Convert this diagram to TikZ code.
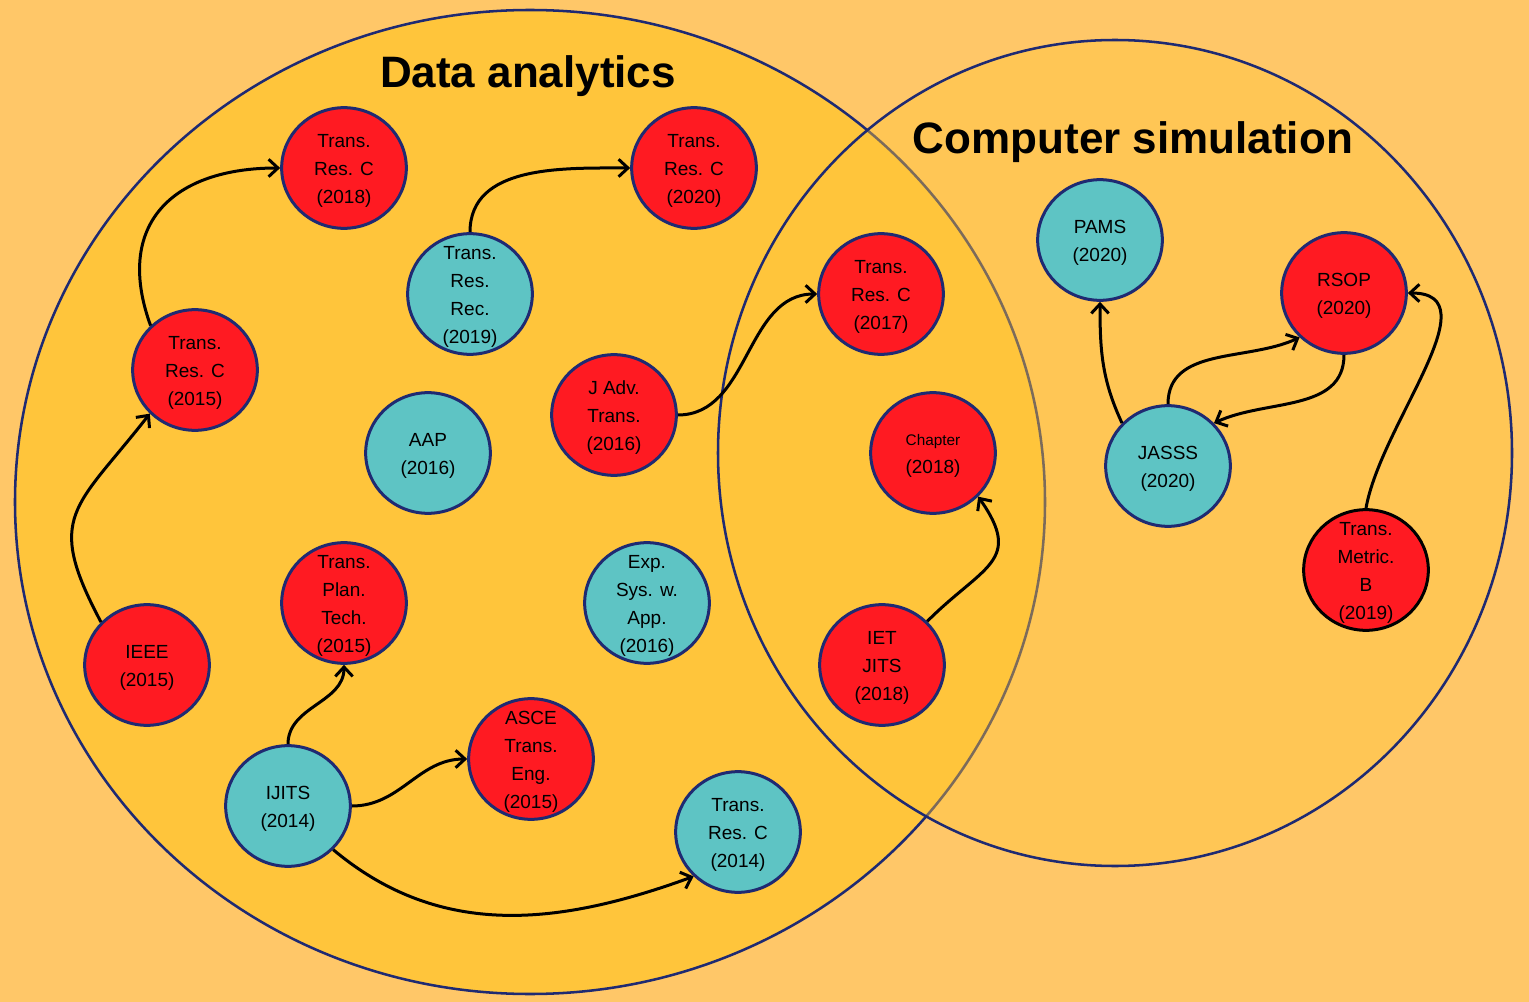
\documentclass[tikz,border=0pt]{standalone}
\usepackage{fontspec}
\setmainfont{Liberation Sans}
\usetikzlibrary{shapes.geometric, arrows.meta}
\definecolor{bgc}{HTML}{FFC768}
\definecolor{leftc}{HTML}{FFC53B}
\definecolor{navy}{HTML}{1F2A72}
\definecolor{pubred}{HTML}{FF1A22}
\definecolor{pubteal}{HTML}{5EC4C4}
\begin{document}
\begin{tikzpicture}[x=0.75pt, y=0.75pt,
  pub/.style={ellipse, draw=navy, line width=2.25pt, minimum width=93.5pt, minimum height=90.5pt, inner sep=0pt},
  redpub/.style={pub, fill=pubred},
  tealpub/.style={pub, fill=pubteal},
  lbl/.style={align=center, font=\fontsize{14.25}{21}\selectfont, inner sep=0pt, yshift=-2pt},
  arr/.style={line width=2.25pt, -{Straight Barb[length=7pt,width=13pt]}},
  ttl/.style={font=\fontsize{33}{40}\selectfont\bfseries, anchor=base, inner sep=0pt},
  bigset/.style={draw=navy, line width=1.9pt}
]
\useasboundingbox (0,0) rectangle (1529,-1002);
\fill[bgc] (0,0) rectangle (1529,-1002);
% sets
\path[bigset, fill=leftc] (530,-502) ellipse [x radius=515, y radius=492];
\path[bigset, fill=leftc, fill opacity=0.42] (1115,-453) ellipse [x radius=397, y radius=413];
% titles
\node[ttl] (t1) at (528,-88) {Data analytics};
\node[ttl] (t2) at (1133,-154) {Computer simulation};
% nodes
\node[redpub, label={[lbl]center:{Trans.\\Res. C\\(2018)}}] (rc18) at (344,-168) {};
\node[redpub, label={[lbl]center:{Trans.\\Res. C\\(2020)}}] (rc20) at (694,-168) {};
\node[tealpub, label={[lbl]center:{Trans.\\Res.\\Rec.\\(2019)}}] (rec19) at (470,-294) {};
\node[redpub, label={[lbl]center:{Trans.\\Res. C\\(2015)}}] (rc15) at (195,-370) {};
\node[tealpub, label={[lbl]center:{AAP\\(2016)}}] (aap) at (428,-453) {};
\node[redpub, label={[lbl]center:{J Adv.\\Trans.\\(2016)}}] (jadv) at (614,-415) {};
\node[redpub, label={[lbl]center:{Trans.\\Res. C\\(2017)}}] (rc17) at (881,-294) {};
\node[redpub, label={[lbl]center:{{\fontsize{11.5}{20}\selectfont Chapter}\\(2018)}}] (chap) at (933,-453) {};
\node[redpub, label={[lbl]center:{IET\\JITS\\(2018)}}] (iet) at (882,-665) {};
\node[tealpub, label={[lbl]center:{PAMS\\(2020)}}] (pams) at (1100,-240) {};
\node[redpub, label={[lbl]center:{RSOP\\(2020)}}] (rsop) at (1344,-293) {};
\node[tealpub, label={[lbl]center:{JASSS\\(2020)}}] (jasss) at (1168,-466) {};
\node[redpub, draw=black, label={[lbl]center:{Trans.\\Metric.\\B\\(2019)}}] (metric) at (1366,-570) {};
\node[redpub, label={[lbl]center:{IEEE\\(2015)}}] (ieee) at (147,-665) {};
\node[redpub, label={[lbl]center:{Trans.\\Plan.\\Tech.\\(2015)}}] (plan15) at (344,-603) {};
\node[redpub, label={[lbl]center:{ASCE\\Trans.\\Eng.\\(2015)}}] (asce) at (531,-759) {};
\node[tealpub, label={[lbl]center:{Exp.\\Sys. w.\\App.\\(2016)}}] (exp) at (647,-603) {};
\node[tealpub, label={[lbl]center:{IJITS\\(2014)}}] (ijits) at (288,-806) {};
\node[tealpub, label={[lbl]center:{Trans.\\Res. C\\(2014)}}] (rc14) at (738,-832) {};
% connectors
\draw[arr] (ieee.137) to[out=118, in=232, looseness=1.45] (rc15.224);
\draw[arr] (rc15.135) to[out=110, in=180, looseness=1.35] (rc18.west);
\draw[arr] (rec19.north) to[out=90, in=180] (rc20.west);
\draw[arr] (jadv.east) to[out=0, in=180] (rc17.west);
\draw[arr] (iet.44) to[out=45, in=-55, looseness=1.5] (chap.-44);
\draw[arr] (ijits.north) to[out=90, in=-90] (plan15.south);
\draw[arr] (ijits.east) to[out=0, in=180] (asce.west);
\draw[arr] (ijits.-44) to[out=-40, in=200] (rc14.225);
\draw[arr] (jasss.137) to[out=115, in=-90] (pams.south);
\draw[arr] (jasss.north) to[out=90, in=205] (rsop.225);
\draw[arr] (rsop.south) to[out=-90, in=25] (jasss.43);
\draw[arr] (metric.north) to[out=80, in=0] (rsop.east);
\end{tikzpicture}
\end{document}
